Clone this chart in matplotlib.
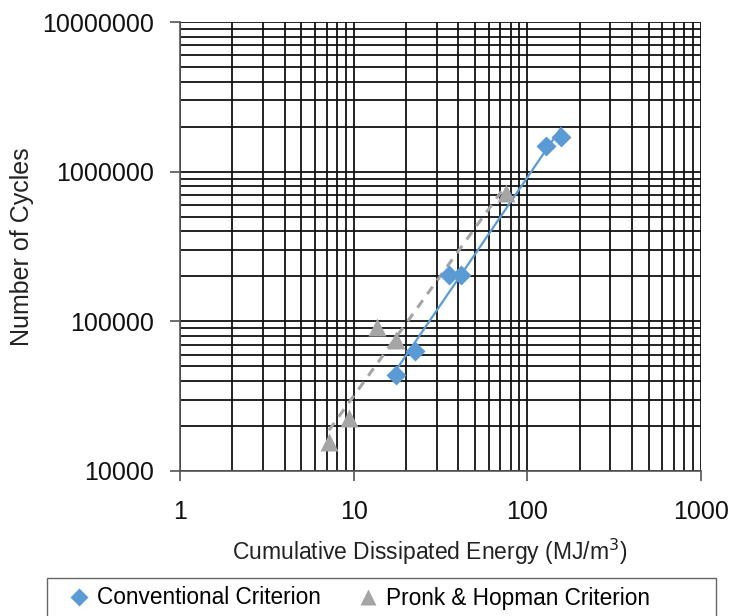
import numpy as np
import matplotlib
matplotlib.use("Agg")
import matplotlib.pyplot as plt
from matplotlib.lines import Line2D
from matplotlib.patches import Rectangle
from matplotlib.ticker import LogLocator, FixedLocator, NullFormatter

plt.rcParams['font.family'] = ['Liberation Sans', 'DejaVu Sans']

# data
conv_energy = [17.5, 22.5, 35.5, 41.3, 127.5, 156.0]
conv_cycles = [43700, 63500, 205000, 203000, 1490000, 1700000]
ph_energy = [7.2, 9.4, 13.7, 17.5, 75.0]
ph_cycles = [15700, 22600, 92300, 75200, 720000]

blue = '#5B9BD5'
gray = '#A5A5A5'

def power_fit(x, y):
    # excel style power trendline
    lx, ly = np.log10(x), np.log10(y)
    b, a = np.polyfit(lx, ly, 1)
    xs = np.logspace(lx.min(), lx.max(), 50)
    return xs, 10 ** (a + b * np.log10(xs))

fig = plt.figure(figsize=(7.3, 6.16), dpi=100)
ax = fig.add_axes([180/730, 1-471/616, 521/730, 449/616])

ax.set_xscale('log')
ax.set_yscale('log')
ax.set_xlim(1, 1000)
ax.set_ylim(1e4, 1e7)

ax.xaxis.set_minor_locator(LogLocator(base=10, subs=np.arange(2, 10)))
ax.yaxis.set_minor_locator(LogLocator(base=10, subs=np.arange(2, 10)))
ax.xaxis.set_minor_formatter(NullFormatter())
ax.yaxis.set_minor_formatter(NullFormatter())
ax.xaxis.set_major_locator(FixedLocator([1, 10, 100, 1000]))
ax.yaxis.set_major_locator(FixedLocator([1e4, 1e5, 1e6, 1e7]))
ax.set_xticklabels(['1', '10', '100', '1000'])
ax.set_yticklabels(['10000', '100000', '1000000', '10000000'])

ax.grid(True, which='both', color='#111111', linewidth=1.3)
ax.set_axisbelow(True)
for s in ['top', 'right']:
    ax.spines[s].set_visible(False)
for s in ['left', 'bottom']:
    ax.spines[s].set_color('#555555')
    ax.spines[s].set_linewidth(1.2)
ax.tick_params(which='major', direction='out', length=7, width=1.2,
               color='#555555', labelsize=18, labelcolor='#111111')
ax.tick_params(axis='x', which='major', pad=14)
ax.tick_params(axis='y', which='major', pad=12)
ax.tick_params(which='minor', length=0)

xs, ys = power_fit(conv_energy, conv_cycles)
ax.plot(xs, ys, color=blue, lw=1.6, zorder=3)
xs, ys = power_fit(ph_energy, ph_cycles)
ax.plot(xs, ys, color=gray, lw=2.2, ls=(0, (3, 2.5)), zorder=3)

ax.plot(conv_energy, conv_cycles, 'D', color=blue, ms=10, mec='none', zorder=4)
ax.plot(ph_energy, ph_cycles, '^', color=gray, ms=12.5, mec='none', zorder=4)

ax.set_xlabel('Cumulative Dissipated Energy (MJ/m$^3$)', fontsize=16.5, color='#222222')
ax.xaxis.set_label_coords((430-180)/521, (471-537)/449)
ax.set_ylabel('Number of Cycles', fontsize=18, color='#222222')
ax.yaxis.set_label_coords((22-180)/521, 0.5)
ax.yaxis.label.set_va('center')

# legend box
fig.patches.append(Rectangle((47/730, -0.02), 669/730, 1-578/616+0.02,
                             transform=fig.transFigure, fill=False,
                             edgecolor='#666666', linewidth=1.0))
handles = [Line2D([], [], marker='D', color=blue, ls='none', ms=9, mec='none'),
           Line2D([], [], marker='^', color=gray, ls='none', ms=12, mec='none')]
fig.legend(handles, ['Conventional Criterion', 'Pronk & Hopman Criterion'],
           loc='center left', bbox_to_anchor=(47/730, 1-598/616), ncol=2,
           frameon=False, fontsize=16.3, handlelength=1.0, handletextpad=0.3,
           columnspacing=1.6)

fig.savefig('out.png', dpi=100, facecolor='white')
